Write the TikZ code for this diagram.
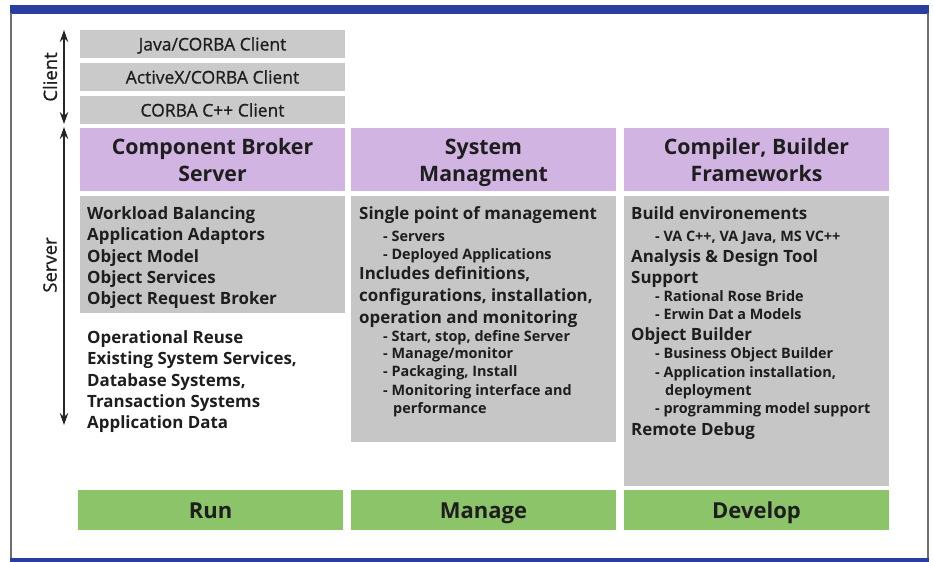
\documentclass[tikz,border=0pt]{standalone}
\usepackage{fontspec}
\setmainfont{Open Sans}
\newfontfamily\clientfont[FakeBold=0.8]{Open Sans}
\usetikzlibrary{arrows.meta}
\definecolor{boxgray}{RGB}{198,198,198}
\definecolor{clientgray}{RGB}{202,202,202}
\definecolor{hdrpurple}{RGB}{210,180,226}
\definecolor{rungreen}{RGB}{140,196,106}
\definecolor{txt}{RGB}{30,30,30}
\definecolor{framblue}{RGB}{42,62,160}
\definecolor{framgray}{RGB}{110,110,110}
\newcommand{\hv}{\vphantom{Agy}}
\tikzset{
  base/.style={inner sep=0pt, outer sep=0pt, anchor=north west, text=txt},
  clientbox/.style={base, fill=clientgray, minimum width=265pt, minimum height=28pt, text height=13pt, text depth=0pt, font=\clientfont\fontsize{17.5}{20}\selectfont},
  hdrbox/.style={base, fill=hdrpurple, minimum width=265pt, minimum height=63pt},
  hdrtext/.style={inner sep=0pt, align=center, text=txt, font=\bfseries\fontsize{21.3}{27}\selectfont},
  graybox/.style={base, fill=boxgray, minimum width=265pt},
  greenbox/.style={base, fill=rungreen, minimum width=265pt, minimum height=40pt, text height=16pt, text depth=0pt, font=\bfseries\fontsize{22}{26}\selectfont},
  mainline/.style={inner sep=0pt, anchor=base west, text=txt, font=\bfseries\fontsize{16.9}{19}\selectfont},
  subline/.style={inner sep=0pt, anchor=base west, text=txt, font=\bfseries\fontsize{14.4}{17}\selectfont},
  sidelabel/.style={inner sep=0pt, rotate=90, text=txt, font=\clientfont\fontsize{18.5}{20}\selectfont},
  dblarrow/.style={line width=1.3pt, black!85, {Stealth[length=12pt,width=8.5pt]}-{Stealth[length=12pt,width=8.5pt]}},
}
\begin{document}
\begin{tikzpicture}[x=1pt,y=-1pt]
\useasboundingbox (0,0) rectangle (934,562);
% frame
\fill[framblue] (10,5) rectangle (929,13.5);
\fill[framblue] (10,557.5) rectangle (929,562);
\draw[framgray, line width=1.4pt] (11,13) -- (11,558);
\draw[framgray, line width=1.4pt] (928,13) -- (928,558);

% client boxes
\node[clientbox] (c1) at (80,30) {Java/CORBA Client};
\node[clientbox] (c2) at (80,63) {ActiveX/CORBA Client};
\node[clientbox] (c3) at (80,96) {CORBA C++ Client};

% headers
\node[hdrbox] (h1) at (80,128) {};
\node[hdrbox] (h2) at (351,128) {};
\node[hdrbox] (h3) at (624,128) {};
\node[hdrtext] (h1t) at ([yshift=-3pt]h1.center) {\hv Component Broker\\Server\hv};
\node[hdrtext] (h2t) at ([yshift=-3pt]h2.center) {\hv System\\Managment\hv};
\node[hdrtext] (h3t) at ([yshift=-3pt]h3.center) {\hv Compiler, Builder\\Frameworks\hv};

% gray boxes
\node[graybox, minimum height=117pt] (g1) at (80,196) {};
\node[graybox, minimum height=246pt] (g2) at (351,196) {};
\node[graybox, minimum height=290pt] (g3) at (624,196) {};

% green boxes
\node[greenbox] (r1) at (78,490) {Run};
\node[greenbox] (r2) at (351,490) {Manage};
\node[greenbox] (r3) at (624,490) {Develop};

% column 1 text (y = visual centre of line; baseline a few points lower)
\foreach \y/\t [count=\i] in {213/Workload Balancing, 234/Application Adaptors, 256/Object Model, 277/Object Services, 298/Object Request Broker,
  337/Operational Reuse, 358/{Existing System Services,}, 380/{Database Systems,}, 401/Transaction Systems, 422/Application Data}
  \node[mainline] (a\i) at (87,\y+6) {\t};

% column 2 text
\foreach \y/\x/\s/\d/\t [count=\i] in {
  213/359/mainline/6/Single point of management,
  236/383/subline/5/- Servers,
  254/383/subline/5/- Deployed Applications,
  273/359/mainline/6/{Includes definitions,},
  295/359/mainline/6/{configurations, installation,},
  317/359/mainline/6/operation and monitoring,
  336/383/subline/5/{- Start, stop, define Server},
  353/383/subline/5/{- Manage/monitor},
  371/383/subline/5/{- Packaging, Install},
  390/383/subline/5/- Monitoring interface and,
  408/393/subline/5/performance}
  \node[\s] (b\i) at (\x,\y+\d) {\t};

% column 3 text
\foreach \y/\x/\s/\d/\t [count=\i] in {
  213/631/mainline/6/Build environements,
  236/655/subline/5/{- VA C++, VA Java, MS VC++},
  256/631/mainline/6/Analysis \& Design Tool,
  277/631/mainline/6/Support,
  296/655/subline/5/- Rational Rose Bride,
  314/655/subline/5/- Erwin Dat a Models,
  334/631/mainline/6/Object Builder,
  353/655/subline/5/- Business Object Builder,
  372/655/subline/5/{- Application installation,},
  390/665/subline/5/deployment,
  408/655/subline/5/- programming model support,
  429/631/mainline/6/Remote Debug}
  \node[\s] (d\i) at (\x,\y+\d) {\t};

% side arrows
\coordinate (ct) at (64,30);
\coordinate (cb) at (64,124);
\coordinate (st) at (64,127);
\coordinate (sb) at (64,425);
\draw[dblarrow] (ct) -- (cb);
\draw[dblarrow] (st) -- (sb);
\node[sidelabel] (lc) at (50,77) {Client};
\node[sidelabel] (ls) at (50,265) {Server};
\end{tikzpicture}
\end{document}
